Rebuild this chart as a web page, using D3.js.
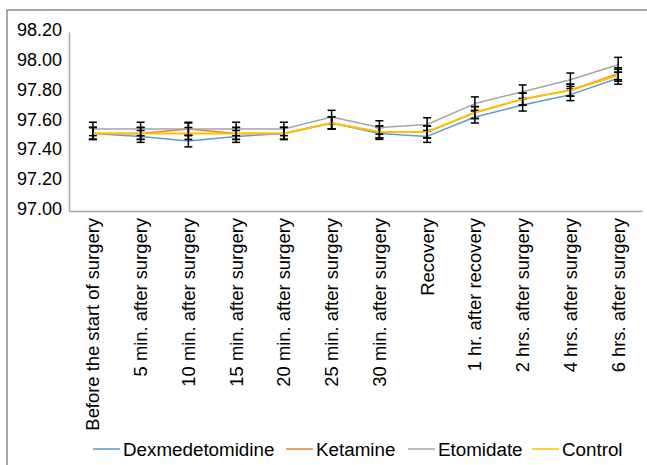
<!DOCTYPE html>
<html><head><meta charset="utf-8">
<script src="https://cdn.jsdelivr.net/npm/d3@7"></script>
<style>body{margin:0;background:#fff}svg{display:block;font-family:"Liberation Sans",Arial,sans-serif}</style>
</head><body><svg id="c" width="647" height="465"></svg>
<script>
const categories = ["Before the start of surgery","5 min. after surgery","10 min. after surgery","15 min. after surgery","20 min. after surgery","25 min. after surgery","30 min. after surgery","Recovery","1 hr. after recovery","2 hrs. after surgery","4 hrs. after surgery","6 hrs. after surgery"];
const seriesNames = ["Dexmedetomidine","Ketamine","Etomidate","Control"];
const dexmedetomidine = [97.52,97.50,97.47,97.50,97.52,97.59,97.52,97.50,97.63,97.71,97.78,97.89];
const ketamine        = [97.52,97.52,97.55,97.52,97.52,97.59,97.53,97.53,97.66,97.75,97.81,97.92];
const etomidate       = [97.55,97.55,97.55,97.55,97.55,97.63,97.56,97.58,97.72,97.80,97.88,97.98];
const control         = [97.52,97.52,97.52,97.52,97.52,97.59,97.53,97.53,97.66,97.75,97.81,97.91];
const errDex = [0.04,0.04,0.04,0.04,0.04,0.04,0.04,0.04,0.04,0.04,0.04,0.04];
const errKet = [0.04,0.04,0.04,0.04,0.04,0.04,0.04,0.04,0.04,0.04,0.04,0.04];
const errEto = [0.045,0.045,0.045,0.045,0.045,0.045,0.045,0.045,0.045,0.045,0.045,0.05];
const errCon = [0.04,0.04,0.04,0.04,0.04,0.04,0.04,0.04,0.04,0.04,0.04,0.04];
const yTicks = [97.00,97.20,97.40,97.60,97.80,98.00,98.20];
const colors = ["#5B9BD5","#ED7D31","#A5A5A5","#FFC000"];

const series = [
  {name: seriesNames[0], values: dexmedetomidine, err: errDex, color: colors[0], w: 1.5},
  {name: seriesNames[1], values: ketamine, err: errKet, color: colors[1], w: 1.5},
  {name: seriesNames[2], values: etomidate, err: errEto, color: colors[2], w: 1.5},
  {name: seriesNames[3], values: control, err: errCon, color: colors[3], w: 2}
];

const svg = d3.select("#c");
svg.append("rect").attr("x",7).attr("y",10).attr("width",660).attr("height",480)
  .attr("fill","none").attr("stroke","#8c8c8c").attr("stroke-width",1.5);

const x = d3.scaleBand().domain(categories).range([69,642]).paddingInner(0).paddingOuter(0);
const y = d3.scaleLinear().domain([97,98.2]).range([211,32]);

const ya = svg.append("g").attr("transform","translate(69,0)")
  .call(d3.axisLeft(y).tickValues(yTicks).tickFormat(d3.format(".2f")).tickSize(0).tickPadding(7));
ya.select(".domain").attr("stroke","#a6a6a6").attr("stroke-width",1.5);
ya.selectAll("text").attr("font-size",18).attr("fill","#000").attr("dy","0.2em")
  .attr("font-family","Liberation Sans, Arial, sans-serif");

const xa = svg.append("g").attr("transform","translate(0,211)")
  .call(d3.axisBottom(x).tickSize(0).tickPadding(0));
xa.select(".domain").attr("stroke","#a6a6a6").attr("stroke-width",1.5);
xa.selectAll("text").attr("font-size",18.4).attr("fill","#000")
  .attr("font-family","Liberation Sans, Arial, sans-serif")
  .attr("text-anchor","end").attr("dy","0.35em")
  .attr("transform","translate(0,7) rotate(-90)").attr("x",0).attr("y",0);

const cx = c => x(c) + x.bandwidth()/2;
const line = d3.line().x((d,i)=>cx(categories[i])).y(d=>y(d));

series.forEach(s => {
  svg.append("path").datum(s.values).attr("d",line).attr("fill","none")
    .attr("stroke",s.color).attr("stroke-width",s.w).attr("stroke-linejoin","round");
  const g = svg.append("g").attr("stroke","#000").attr("stroke-width",1.5);
  s.values.forEach((v,i) => {
    const px = cx(categories[i]);
    const y1 = y(v + s.err[i]), y2 = y(v - s.err[i]);
    g.append("line").attr("x1",px).attr("x2",px).attr("y1",y1).attr("y2",y2);
    g.append("line").attr("x1",px-4).attr("x2",px+4).attr("y1",y1).attr("y2",y1);
    g.append("line").attr("x1",px-4).attr("x2",px+4).attr("y1",y2).attr("y2",y2);
  });
});

const legX = [93, 286, 408, 532];
const leg = svg.append("g");
series.forEach((s,i) => {
  const g = leg.append("g").attr("transform",`translate(${legX[i]},449)`);
  g.append("line").attr("x1",0).attr("x2",27).attr("y1",0).attr("y2",0)
    .attr("stroke",s.color).attr("stroke-width",1.5);
  g.append("text").attr("x",30).attr("y",0).attr("dy","0.35em")
    .attr("font-size",18.8).attr("fill","#000").text(s.name);
});
</script></body></html>
